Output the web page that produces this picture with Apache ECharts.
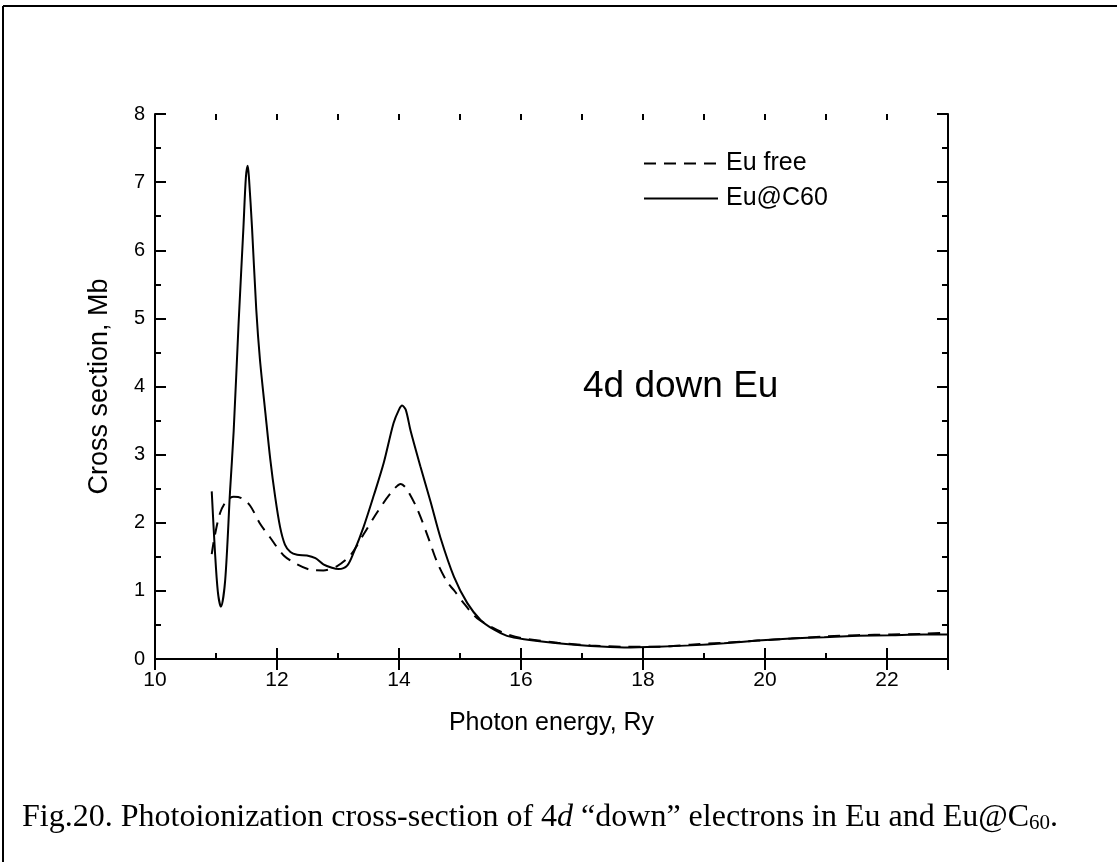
<!DOCTYPE html>
<html>
<head>
<meta charset="utf-8">
<script src="https://cdn.jsdelivr.net/npm/echarts@6/dist/echarts.min.js"></script>
<style>
html,body{margin:0;padding:0;background:#fff;}
#chart{width:1117px;height:862px;}
</style>
</head>
<body>
<div id="chart"></div>
<script>
// Eu@C60 (solid)
const energyC60 = [10.93,10.98,11.03,11.08,11.15,11.23,11.29,11.37,11.45,11.49,11.52,11.54,11.59,11.66,11.72,11.81,11.89,11.97,12.05,12.13,12.22,12.33,12.49,12.63,12.76,12.90,13.01,13.15,13.26,13.42,13.59,13.75,13.91,14.00,14.05,14.11,14.19,14.35,14.52,14.68,14.90,15.12,15.34,15.56,15.77,16.05,16.60,17.14,17.69,18.24,18.78,19.33,19.88,20.43,20.97,21.52,22.07,22.60,23.00,23.25];
const sigmaC60  = [2.46,1.62,0.99,0.77,1.15,2.46,3.35,4.92,6.34,7.07,7.24,7.07,6.34,5.13,4.40,3.61,2.93,2.38,1.94,1.68,1.57,1.53,1.52,1.48,1.39,1.34,1.32,1.37,1.57,1.94,2.41,2.88,3.46,3.66,3.72,3.66,3.35,2.83,2.30,1.78,1.21,0.82,0.57,0.43,0.34,0.29,0.23,0.19,0.17,0.18,0.20,0.23,0.27,0.30,0.32,0.34,0.35,0.36,0.36,0.35];
// Eu free (dashed)
const energyFree = [10.93,10.98,11.07,11.18,11.29,11.42,11.56,11.72,11.89,12.11,12.33,12.55,12.76,12.98,13.20,13.42,13.64,13.86,14.03,14.13,14.30,14.46,14.63,14.79,14.90,15.06,15.28,15.67,16.00,16.60,17.14,17.69,18.24,18.78,19.33,19.88,20.43,20.97,21.52,22.07,22.60,23.00];
const sigmaFree  = [1.54,1.81,2.15,2.33,2.38,2.36,2.25,1.99,1.78,1.52,1.39,1.31,1.30,1.36,1.52,1.83,2.15,2.43,2.57,2.49,2.20,1.83,1.41,1.13,1.01,0.82,0.60,0.40,0.31,0.24,0.20,0.18,0.18,0.21,0.24,0.27,0.30,0.33,0.35,0.36,0.37,0.39];

const xMajorLabels = [10,12,14,16,18,20,22];
const seriesNames = ['Eu free','Eu@C60'];

const pairs = (xs, ys) => xs.map((x,i)=>[x, ys[i]]);
const FONT = '"Liberation Sans", Arial, Helvetica, sans-serif';
const SERIF = '"Liberation Serif","Times New Roman",serif';
const black = '#000';

const chart = echarts.init(document.getElementById('chart'), null, {renderer:'canvas'});

const xBase = {type:'value', min:10, max:23, splitLine:{show:false}};
const option = {
  backgroundColor:'#fff',
  animation:false,
  grid:{left:155, right:169, top:114, bottom:203, containLabel:false},
  legend:{
    orient:'vertical', left:643, top:151, itemWidth:74, itemHeight:26, itemGap:10, padding:0,
    data:seriesNames,
    itemStyle:{opacity:0},
    textStyle:{fontFamily:FONT, fontSize:25, color:black, padding:[0,0,0,3]}
  },
  xAxis:[
    Object.assign({}, xBase, {
      position:'bottom', interval:2,
      name:'Photon energy, Ry', nameLocation:'middle', nameGap:52,
      nameTextStyle:{fontFamily:FONT, fontSize:25, color:black},
      axisLine:{show:true, lineStyle:{color:black, width:2}},
      axisTick:{show:true, inside:true, length:11, lineStyle:{color:black, width:2}},
      axisLabel:{show:true, margin:11, fontFamily:FONT, fontSize:21, color:black,
        formatter:v => xMajorLabels.indexOf(v) >= 0 ? String(v) : ''}
    }),
    Object.assign({}, xBase, {
      position:'top', interval:2,
      axisLine:{show:true, lineStyle:{color:black, width:2}},
      axisTick:{show:true, inside:true, length:11, lineStyle:{color:black, width:2}},
      axisLabel:{show:false}
    }),
    Object.assign({}, xBase, {
      position:'bottom', interval:1,
      axisLine:{show:false},
      axisTick:{show:true, inside:true, length:6, lineStyle:{color:black, width:2}},
      axisLabel:{show:false}
    }),
    Object.assign({}, xBase, {
      position:'top', interval:1,
      axisLine:{show:false},
      axisTick:{show:true, inside:true, length:6, lineStyle:{color:black, width:2}},
      axisLabel:{show:false}
    })
  ],
  yAxis:[
    {type:'value', min:0, max:8, interval:1, position:'left',
      name:'Cross section, Mb', nameLocation:'middle', nameGap:42, nameRotate:90,
      nameTextStyle:{fontFamily:FONT, fontSize:27, color:black},
      splitLine:{show:false},
      axisLine:{show:true, lineStyle:{color:black, width:2}},
      axisTick:{show:true, inside:true, length:11, lineStyle:{color:black, width:2}},
      minorTick:{show:true, splitNumber:2, length:6, lineStyle:{color:black, width:2}},
      minorSplitLine:{show:false},
      axisLabel:{show:true, margin:10, fontFamily:FONT, fontSize:20, color:black}
    },
    {type:'value', min:0, max:8, interval:1, position:'right',
      splitLine:{show:false},
      axisLine:{show:true, lineStyle:{color:black, width:2}},
      axisTick:{show:true, inside:true, length:11, lineStyle:{color:black, width:2}},
      minorTick:{show:true, splitNumber:2, length:6, lineStyle:{color:black, width:2}},
      minorSplitLine:{show:false},
      axisLabel:{show:false}
    }
  ],
  graphic:[
    {type:'line', shape:{x1:3, y1:6, x2:3, y2:862}, style:{stroke:black, lineWidth:2}, silent:true},
    {type:'line', shape:{x1:3, y1:6, x2:1117, y2:6}, style:{stroke:black, lineWidth:2}, silent:true},
    {type:'text', x:583, y:387,
      style:{text:'4d down Eu', fontFamily:FONT, fontSize:37, fill:black, verticalAlign:'middle'}},
    {type:'text', x:22, y:816,
      style:{
        verticalAlign:'middle',
        text:'{n|Fig.20. Photoionization cross-section of 4}{i|d}{n| “down” electrons in Eu and Eu@C}{s|60}{n|.}',
        rich:{
          n:{fontFamily:SERIF, fontSize:32, fill:black, verticalAlign:'bottom', lineHeight:36},
          i:{fontFamily:SERIF, fontSize:32, fontStyle:'italic', fill:black, verticalAlign:'bottom', lineHeight:36},
          s:{fontFamily:SERIF, fontSize:21, fill:black, verticalAlign:'bottom', lineHeight:29}
        }
      }}
  ],
  series:[
    {name:seriesNames[0], type:'line', xAxisIndex:0, yAxisIndex:0,
      data:pairs(energyFree, sigmaFree), smooth:0.3,
      symbol:'none', showSymbol:false, clip:false,
      itemStyle:{color:black},
      lineStyle:{color:black, width:2, type:[12,8]}},
    {name:seriesNames[1], type:'line', xAxisIndex:0, yAxisIndex:0,
      data:pairs(energyC60, sigmaC60), smooth:0.3,
      symbol:'none', showSymbol:false, clip:false,
      itemStyle:{color:black},
      lineStyle:{color:black, width:2, type:'solid'}}
  ]
};
chart.setOption(option);
</script>
</body>
</html>
